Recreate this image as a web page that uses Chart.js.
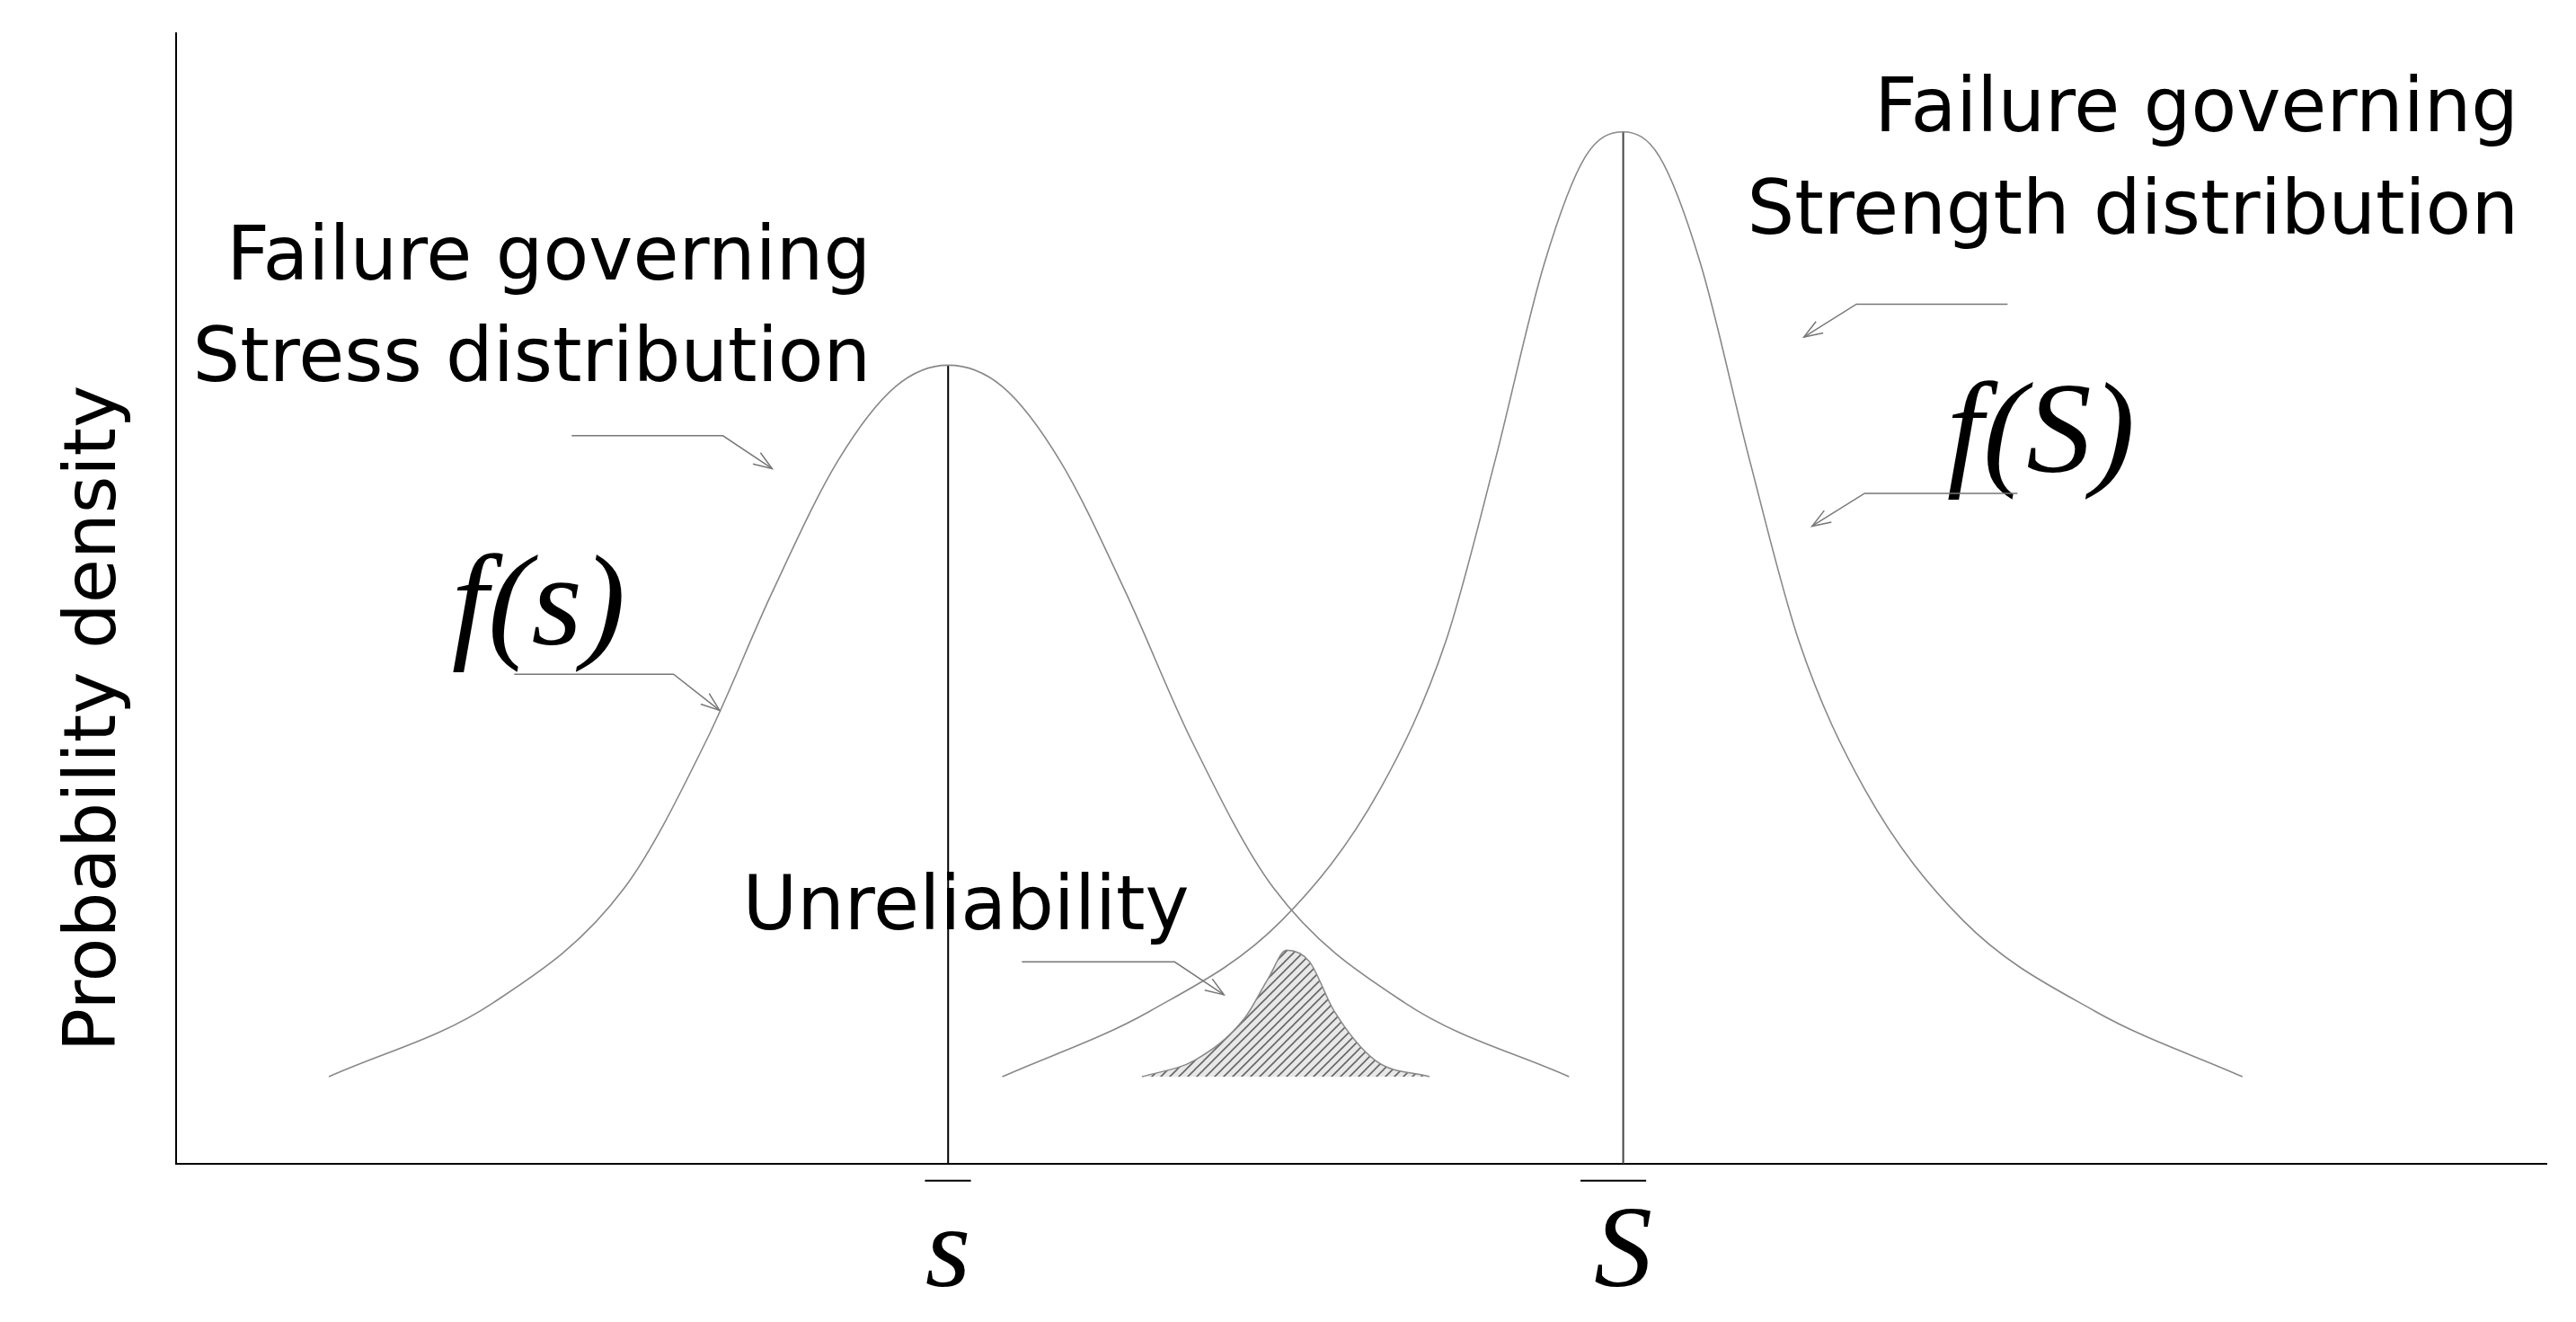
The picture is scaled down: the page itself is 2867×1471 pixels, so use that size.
<!DOCTYPE html>
<html>
<head>
<meta charset="utf-8">
<script src="https://cdn.jsdelivr.net/npm/chart.js@4.4.0/dist/chart.umd.min.js"></script>
<style>
  html, body { margin: 0; padding: 0; background: #fff; }
  #wrap { width: 2867px; height: 1471px; }
</style>
</head>
<body>
<div id="wrap"><canvas id="c"></canvas></div>
<script>
// values (x along axis, y height above axis)
const stressX = [93, 193, 273, 323, 363, 403, 438, 470, 503, 538, 578, 618, 668, 748, 848];
const stressY = [53, 98, 168, 258, 348, 428, 473, 486, 473, 428, 348, 258, 168, 98, 53];
const strengthX = [503, 593, 673, 733, 773, 803, 833, 858, 881, 903, 928, 958, 988, 1028, 1088, 1168, 1258];
const strengthY = [53, 93, 148, 228, 318, 428, 548, 613, 628, 613, 548, 428, 318, 228, 148, 93, 53];
const overlapX = [588, 620, 650, 665, 676, 690, 705, 730, 763];
const overlapY = [53, 63, 88, 113, 130, 123, 93, 63, 53];
const meanStress = 470, meanStrength = 881;

const pts = (xs, ys) => xs.map((x, i) => ({ x, y: ys[i] }));

// reference-pixel helper for annotations
const SX = 2867 / 1568, SY = 1471 / 804;
const P = (x, y) => [x * SX, y * SY];

// hatch pattern
function hatch() {
  const c = document.createElement('canvas');
  c.width = 10; c.height = 10;
  const g = c.getContext('2d');
  g.fillStyle = '#e8e8e8'; g.fillRect(0, 0, 10, 10);
  g.strokeStyle = '#666'; g.lineWidth = 1.6;
  g.beginPath(); g.moveTo(0, 10); g.lineTo(10, 0); g.moveTo(-5, 5); g.lineTo(5, -5); g.moveTo(5, 15); g.lineTo(15, 5); g.stroke();
  return g.createPattern(c, 'repeat');
}

const notes = {
  id: 'notes',
  afterDraw(chart) {
    const ctx = chart.ctx;
    ctx.save();
    ctx.fillStyle = '#000';
    const sans = 'DejaVu Sans, Verdana, sans-serif';
    const serif = s => 'italic ' + s + 'px "Liberation Serif", "Times New Roman", serif';
    function text(t, x, y, align, font) {
      const [a, b] = P(x, y);
      ctx.font = font; ctx.textAlign = align; ctx.textBaseline = 'alphabetic';
      ctx.fillText(t, a, b);
    }
    const f = '83px ' + sans;
    text('Failure governing', 530, 170, 'right', f);
    text('Stress distribution', 530, 232, 'right', f);
    text('Failure governing', 1533, 80, 'right', f);
    text('Strength distribution', 1533, 142, 'right', f);
    text('Unreliability', 452, 565, 'left', f);
    text('f(s)', 275, 392, 'left', serif(145));
    text('f(S)', 1185, 287, 'left', serif(145));
    text('s', 577, 782, 'center', serif(130));
    text('S', 988, 782, 'center', serif(130));
    // overbars
    ctx.strokeStyle = '#000'; ctx.lineWidth = 2;
    [[563, 591], [962, 1002]].forEach(([a, b]) => {
      const p1 = P(a, 718), p2 = P(b, 718);
      ctx.beginPath(); ctx.moveTo(p1[0], p1[1]); ctx.lineTo(p2[0], p2[1]); ctx.stroke();
    });
    // y title
    ctx.save();
    const [tx, ty] = P(70, 437);
    ctx.translate(tx, ty); ctx.rotate(-Math.PI / 2);
    ctx.font = '80px ' + sans; ctx.textAlign = 'center';
    ctx.fillText('Probability density', 0, 0);
    ctx.restore();
    // pointer lines
    const arrows = [
      [[348, 265], [440, 265], [470, 285]],
      [[313, 410], [410, 410], [438, 432]],
      [[622, 585], [715, 585], [745, 605]],
      [[1222, 185], [1130, 185], [1098, 205]],
      [[1228, 300], [1135, 300], [1103, 320]]
    ];
    ctx.strokeStyle = '#777'; ctx.lineWidth = 1.5;
    arrows.forEach(a => {
      const q = a.map(p => P(p[0], p[1]));
      ctx.beginPath(); ctx.moveTo(q[0][0], q[0][1]);
      ctx.lineTo(q[1][0], q[1][1]); ctx.lineTo(q[2][0], q[2][1]); ctx.stroke();
      const ang = Math.atan2(q[2][1] - q[1][1], q[2][0] - q[1][0]);
      ctx.beginPath();
      ctx.moveTo(q[2][0] - 22 * Math.cos(ang - 0.35), q[2][1] - 22 * Math.sin(ang - 0.35));
      ctx.lineTo(q[2][0], q[2][1]);
      ctx.lineTo(q[2][0] - 22 * Math.cos(ang + 0.35), q[2][1] - 22 * Math.sin(ang + 0.35));
      ctx.stroke();
    });
    ctx.restore();
  }
};

new Chart(document.getElementById('c'), {
  type: 'scatter',
  data: {
    datasets: [
      { data: pts(overlapX, overlapY), showLine: true, borderColor: '#888', borderWidth: 1.5,
        backgroundColor: hatch(), fill: { value: 53 }, pointRadius: 0, cubicInterpolationMode: 'monotone' },
      { data: pts(stressX, stressY), showLine: true, borderColor: '#888', borderWidth: 1.6,
        pointRadius: 0, cubicInterpolationMode: 'monotone', fill: false },
      { data: pts(strengthX, strengthY), showLine: true, borderColor: '#888', borderWidth: 1.6,
        pointRadius: 0, cubicInterpolationMode: 'monotone', fill: false },
      { data: [{ x: meanStress, y: 0 }, { x: meanStress, y: 486 }], showLine: true, borderColor: '#000',
        borderWidth: 2, pointRadius: 0 },
      { data: [{ x: meanStrength, y: 0 }, { x: meanStrength, y: 628 }], showLine: true, borderColor: '#444',
        borderWidth: 2, pointRadius: 0 }
    ]
  },
  options: {
    responsive: true, maintainAspectRatio: false, animation: false,
    layout: { padding: { left: 196, right: 33, top: 37, bottom: 176 } },
    plugins: { legend: { display: false }, tooltip: { enabled: false } },
    scales: {
      x: { type: 'linear', min: 0, max: 1443, ticks: { display: false }, grid: { display: false, drawTicks: false },
           border: { display: true, color: '#000', width: 2 } },
      y: { type: 'linear', min: 0, max: 688, ticks: { display: false }, grid: { display: false, drawTicks: false },
           border: { display: true, color: '#000', width: 2 } }
    }
  },
  plugins: [notes]
});
</script>
</body>
</html>
